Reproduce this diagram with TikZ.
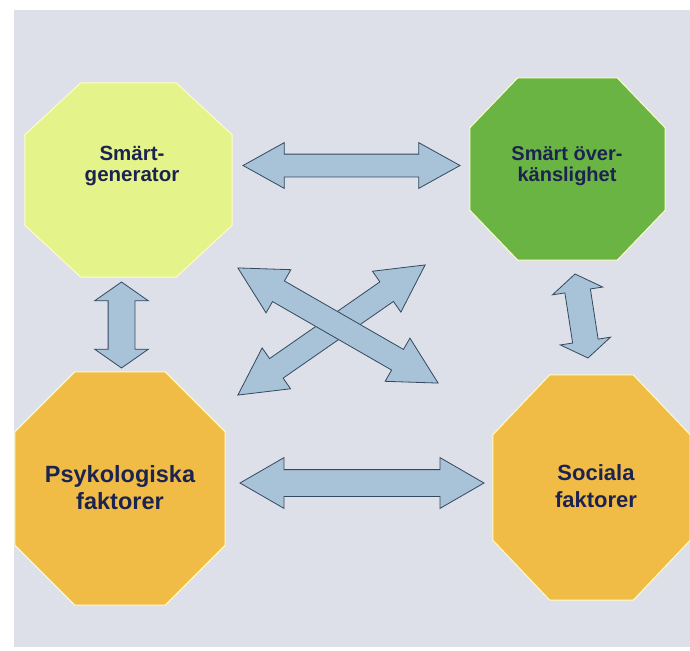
\documentclass[tikz,border=0pt]{standalone}
\usepackage{fontspec}
\setmainfont{Liberation Sans}
\usetikzlibrary{calc,shapes.arrows}
\definecolor{bgc}{HTML}{DDE0E8}
\definecolor{lime}{HTML}{E4F48A}
\definecolor{grn}{HTML}{6AB443}
\definecolor{org}{HTML}{F0BC46}
\definecolor{arrf}{HTML}{A8C2D8}
\definecolor{arrd}{HTML}{34485E}
\definecolor{txt}{HTML}{1C2350}
\tikzset{
  octbox/.style={rectangle, inner sep=0pt},
  octfill/.style={draw=white!80!yellow, line width=1pt},
  lbl/.style={text=txt, align=center},
  blk/.style={double arrow, draw=arrd, fill=arrf, line width=0.8pt,
    inner xsep=0pt, double arrow head indent=0pt},
}
% #1 node name, #2 chamfer x, #3 chamfer y, #4 fill
\newcommand\octshape[4]{%
  \fill[octfill, fill=#4]
    ($(#1.north west)+(#2,0)$) -- ($(#1.north east)+(-#2,0)$) --
    ($(#1.north east)+(0,#3)$) -- ($(#1.south east)+(0,-#3)$) --
    ($(#1.south east)+(-#2,0)$) -- ($(#1.south west)+(#2,0)$) --
    ($(#1.south west)+(0,-#3)$) -- ($(#1.north west)+(0,#3)$) -- cycle;}
\begin{document}
\begin{tikzpicture}[x=1pt,y=-1pt]
\useasboundingbox (0,0) rectangle (690,650);
\fill[white] (0,0) rectangle (690,650);
\fill[bgc] (14,10) rectangle (690,647);

\node[octbox, minimum width=207pt, minimum height=194pt] (sg) at (128.5,180) {};
\octshape{sg}{56}{52}{lime}
\node[lbl, font=\bfseries\fontsize{20.5}{21.5}\selectfont] (sgt) at (132,166) {Smärt-\\generator};

\node[octbox, minimum width=195pt, minimum height=182pt] (so) at (567.5,169) {};
\octshape{so}{48}{50}{grn}
\node[lbl, font=\bfseries\fontsize{20}{21.5}\selectfont] (sot) at (567,166) {Smärt över-\\känslighet};

\node[octbox, minimum width=210pt, minimum height=233pt] (pf) at (120,488.5) {};
\octshape{pf}{60}{60}{org}
\node[lbl, font=\bfseries\fontsize{23.5}{27}\selectfont] (pft) at (120,488) {Psykologiska\\faktorer};

\node[octbox, minimum width=197pt, minimum height=225pt] (sf) at (591.5,487.5) {};
\octshape{sf}{57}{60}{org}
\node[lbl, font=\bfseries\fontsize{22}{27}\selectfont] (sft) at (596,486) {Sociala\\faktorer};

% block arrows
\node[blk, inner ysep=11pt, minimum height=217pt, double arrow head extend=11.5pt, double arrow tip angle=58] (a1) at (351.5,165.5) {};
\node[blk, inner ysep=13pt, minimum height=244pt, double arrow head extend=12pt, double arrow tip angle=60] (a2) at (362,483) {};
\node[blk, rotate=90, inner ysep=13pt, minimum height=86pt, double arrow head extend=13.5pt, double arrow tip angle=110] (a3) at (121.5,325) {};
\node[blk, rotate=98.8, inner ysep=12.5pt, minimum height=85pt, double arrow head extend=12.5pt, double arrow tip angle=112] (a4) at (581.5,316) {};
\node[blk, rotate=34.8, inner ysep=11.5pt, minimum height=228pt, double arrow head extend=13pt, double arrow tip angle=56] (a5) at (331.5,330) {};
\node[blk, rotate=-29.9, inner ysep=11.5pt, minimum height=231pt, double arrow head extend=13pt, double arrow tip angle=56] (a6) at (338,325.5) {};
\end{tikzpicture}
\end{document}
